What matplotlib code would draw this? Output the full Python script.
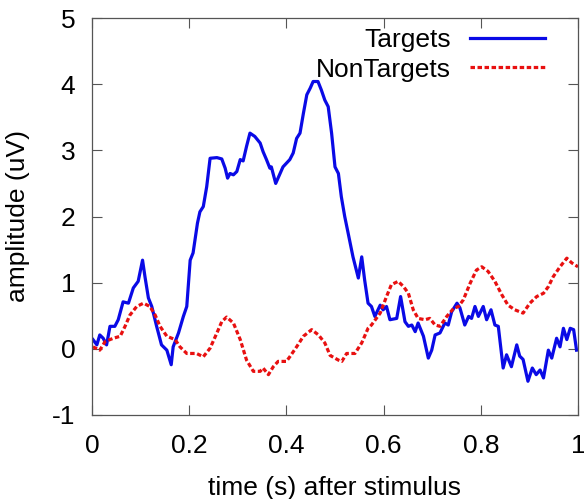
import matplotlib
matplotlib.use('Agg')
import matplotlib.pyplot as plt

plt.rcParams['font.family'] = ['Liberation Sans', 'DejaVu Sans']
plt.rcParams['axes.unicode_minus'] = False

# Targets (blue solid)
t_targets = [0.002, 0.010, 0.016, 0.023, 0.030, 0.037, 0.047, 0.054, 0.064, 0.075,
             0.085, 0.095, 0.104, 0.109, 0.116, 0.123, 0.133, 0.143, 0.154, 0.163,
             0.167, 0.178, 0.188, 0.195, 0.202, 0.208, 0.217, 0.222, 0.229, 0.236,
             0.243, 0.257, 0.267, 0.274, 0.279, 0.284, 0.291, 0.298, 0.305, 0.311,
             0.318, 0.325, 0.335, 0.346, 0.352, 0.359, 0.366, 0.369, 0.378, 0.387,
             0.393, 0.407, 0.414, 0.421, 0.428, 0.435, 0.442, 0.449, 0.455, 0.465,
             0.472, 0.479, 0.486, 0.493, 0.500, 0.507, 0.513, 0.520, 0.527, 0.537,
             0.548, 0.555, 0.561, 0.568, 0.575, 0.582, 0.593, 0.599, 0.606, 0.613,
             0.627, 0.635, 0.644, 0.651, 0.658, 0.665, 0.671, 0.682, 0.692, 0.699,
             0.706, 0.716, 0.726, 0.733, 0.740, 0.751, 0.757, 0.767, 0.775, 0.781,
             0.788, 0.795, 0.805, 0.812, 0.821, 0.829, 0.836, 0.846, 0.853, 0.863,
             0.874, 0.880, 0.887, 0.897, 0.906, 0.914, 0.922, 0.929, 0.939, 0.946,
             0.956, 0.963, 0.970, 0.977, 0.984, 0.991, 0.997]
amp_targets = [0.14, 0.06, 0.21, 0.16, 0.06, 0.34, 0.34, 0.44, 0.71, 0.69,
               0.92, 1.02, 1.34, 1.09, 0.77, 0.64, 0.34, 0.06, -0.02, -0.24,
               0.03, 0.24, 0.49, 0.64, 1.34, 1.45, 1.90, 2.07, 2.15, 2.45,
               2.88, 2.89, 2.87, 2.73, 2.58, 2.65, 2.63, 2.68, 2.86, 2.84,
               3.06, 3.26, 3.21, 3.11, 2.98, 2.86, 2.73, 2.75, 2.50, 2.65,
               2.75, 2.86, 2.96, 3.18, 3.26, 3.56, 3.84, 3.94, 4.04, 4.04,
               3.91, 3.76, 3.66, 3.26, 2.75, 2.65, 2.30, 2.00, 1.75, 1.39,
               1.07, 1.39, 1.04, 0.69, 0.64, 0.49, 0.66, 0.59, 0.64, 0.44,
               0.46, 0.79, 0.41, 0.34, 0.36, 0.26, 0.39, 0.19, -0.14, -0.02,
               0.21, 0.24, 0.39, 0.36, 0.56, 0.69, 0.62, 0.36, 0.49, 0.46,
               0.64, 0.49, 0.64, 0.44, 0.59, 0.36, 0.34, -0.29, -0.09, -0.27,
               0.06, -0.11, -0.16, -0.49, -0.29, -0.39, -0.32, -0.44, -0.02, -0.14,
               0.16, 0.03, 0.31, 0.14, 0.31, 0.29, -0.02]

# NonTargets (red dotted)
t_nontargets = [0.002, 0.016, 0.027, 0.044, 0.058, 0.068, 0.078, 0.092, 0.106, 0.119,
                0.130, 0.140, 0.154, 0.171, 0.181, 0.195, 0.215, 0.229, 0.243, 0.257,
                0.267, 0.277, 0.291, 0.305, 0.318, 0.332, 0.346, 0.352, 0.363, 0.373,
                0.383, 0.400, 0.407, 0.421, 0.435, 0.452, 0.466, 0.479, 0.490, 0.507,
                0.514, 0.524, 0.541, 0.555, 0.568, 0.575, 0.593, 0.606, 0.616, 0.630,
                0.641, 0.651, 0.661, 0.671, 0.685, 0.695, 0.706, 0.716, 0.730, 0.744,
                0.754, 0.764, 0.778, 0.791, 0.802, 0.815, 0.829, 0.843, 0.856, 0.870,
                0.887, 0.901, 0.915, 0.929, 0.939, 0.949, 0.963, 0.977, 0.987, 1.000]
amp_nontargets = [0.03, -0.02, 0.11, 0.16, 0.19, 0.34, 0.51, 0.64, 0.69, 0.64,
                  0.51, 0.34, 0.19, 0.14, 0.03, -0.07, -0.07, -0.12, 0.01, 0.24,
                  0.41, 0.48, 0.39, 0.14, -0.17, -0.34, -0.34, -0.29, -0.39, -0.27,
                  -0.19, -0.19, -0.12, 0.03, 0.19, 0.29, 0.21, 0.09, -0.10, -0.17,
                  -0.19, -0.07, -0.07, 0.09, 0.31, 0.36, 0.54, 0.79, 0.97, 1.02,
                  0.94, 0.84, 0.59, 0.46, 0.44, 0.46, 0.36, 0.34, 0.49, 0.61,
                  0.64, 0.74, 0.99, 1.19, 1.24, 1.17, 1.02, 0.82, 0.66, 0.59,
                  0.54, 0.69, 0.79, 0.84, 0.94, 1.09, 1.24, 1.37, 1.30, 1.24]

x_ticks = [0, 0.2, 0.4, 0.6, 0.8, 1]
x_tick_labels = ['0', '0.2', '0.4', '0.6', '0.8', '1']
y_ticks = [-1, 0, 1, 2, 3, 4, 5]

W, H = 584, 499
fig = plt.figure(figsize=(W / 100, H / 100), dpi=100)
ax = fig.add_axes([92 / W, (H - 415) / H, (578 - 92) / W, (415 - 18) / H])

ax.plot(t_targets, amp_targets, color='#0a0ae6', lw=2.3, label='Targets',
        solid_joinstyle='round')
ax.plot(t_nontargets, amp_nontargets, color='#e81010', lw=2.3, ls=(0, (1.4, 0.8)),
        label='NonTargets')

ax.set_xlim(0, 1)
ax.set_ylim(-1, 5)
ax.set_xticks(x_ticks)
ax.set_xticklabels(x_tick_labels)
ax.set_yticks(y_ticks)
ax.set_yticklabels([str(v) for v in y_ticks])

fs = 19
ax.tick_params(direction='in', length=7.2, width=0.8, color='#555555',
               top=True, right=True, labelsize=fs)
ax.tick_params(axis='x', pad=14)
ax.tick_params(axis='y', pad=12)
for s in ax.spines.values():
    s.set_color('#555555')
    s.set_linewidth(0.9)

ax.set_xlabel('time (s) after stimulus', fontsize=fs, labelpad=13)
ax.set_ylabel('amplitude (uV)', fontsize=fs, labelpad=16)

ax.legend(loc='upper right', bbox_to_anchor=(545 / W, (H - 28) / H),
          bbox_transform=fig.transFigure, frameon=False, markerfirst=False,
          fontsize=fs, handlelength=2.85, handletextpad=0.7, labelspacing=0.21,
          borderpad=0, borderaxespad=0)

fig.savefig('out.png', dpi=100)
